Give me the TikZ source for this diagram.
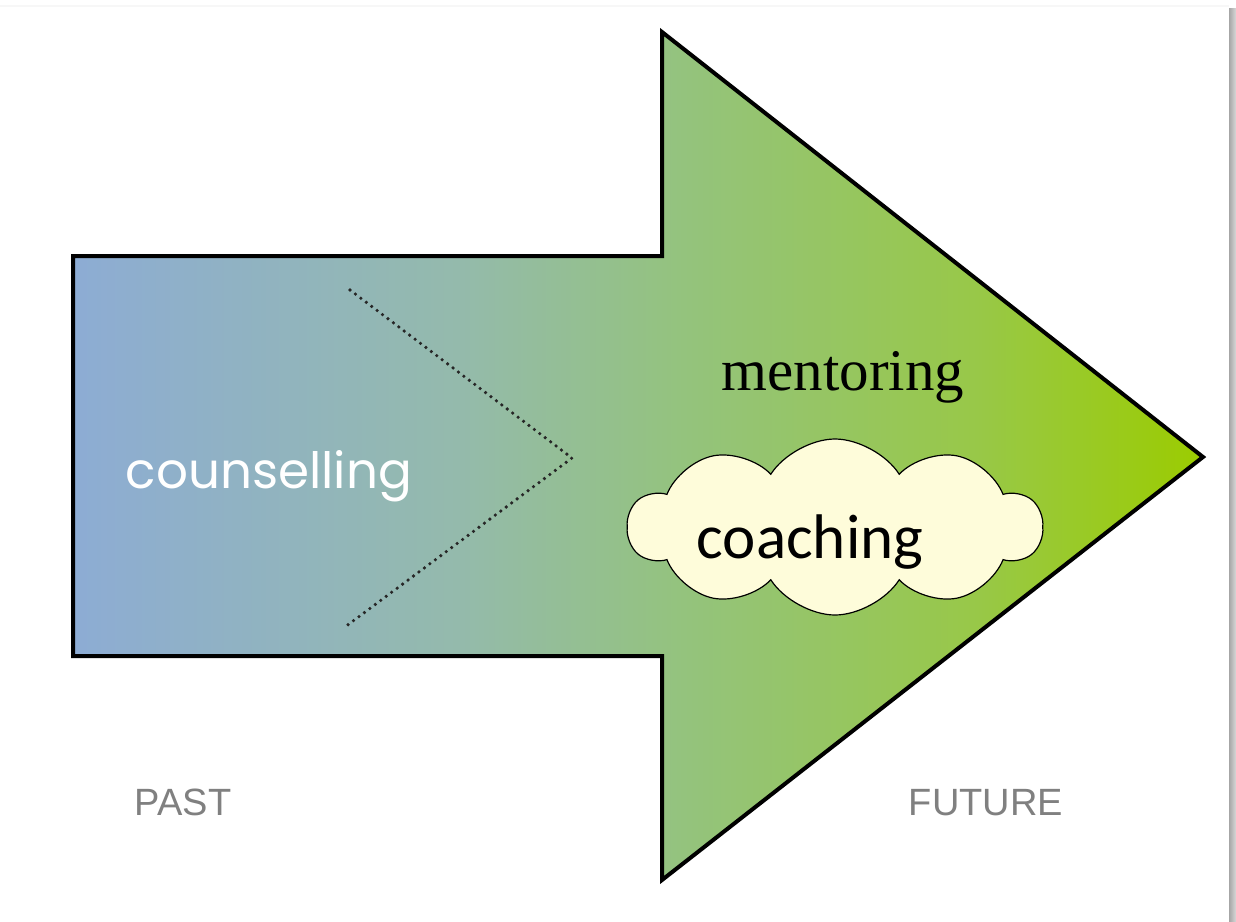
\documentclass[tikz,border=0pt]{standalone}
\usepackage{fontspec}
\setmainfont{Liberation Serif}
\newfontfamily\calfont{Carlito}
\newfontfamily\roundfont{Poppins}
\newfontfamily\arialfont{Liberation Sans}
\usetikzlibrary{shapes.symbols}
\definecolor{cA}{RGB}{141,172,212}
\definecolor{cB}{RGB}{148,186,172}
\definecolor{cC}{RGB}{148,195,125}
\definecolor{cD}{RGB}{152,200,72}
\definecolor{cE}{RGB}{155,204,0}
\definecolor{cloudfill}{RGB}{254,252,218}
\definecolor{labelgrey}{RGB}{128,128,128}
\pgfdeclarehorizontalshading{arrowshade}{100bp}{%
  color(0bp)=(cA); color(25bp)=(cA); color(42bp)=(cB); color(52bp)=(cC); color(65bp)=(cD); color(75bp)=(cE); color(100bp)=(cE)}
\tikzset{
  bigarrow/.style={draw=black, line width=2pt, line join=miter, shading=arrowshade, shading angle=0},
  dotline/.style={draw=black!85, line width=1.8pt, line cap=round, dash pattern=on 0pt off 3.4pt},
  cloudbox/.style={cloud, cloud puffs=10, cloud puff arc=115, aspect=2.4, draw=black, line width=0.6pt,
    fill=cloudfill, minimum width=207pt, minimum height=88pt, inner sep=0pt},
  timelabel/.style={font=\arialfont\fontsize{19}{21}\selectfont, text=labelgrey, anchor=base, inner sep=0pt}
}
\begin{document}
\begin{tikzpicture}[x=0.5pt,y=-0.5pt]
\useasboundingbox (0,0) rectangle (1236,921);
\fill[white] (0,0) rectangle (1236,921);
% page shadow
\shade[left color=black!35, right color=black!15] (1229,8) rectangle (1236,921);
\fill[black!3] (0,5) rectangle (1229,7);
% arrow
\coordinate (a1) at (73,256);
\coordinate (a2) at (662,256);
\coordinate (a3) at (662,32);
\coordinate (a4) at (1203,457);
\coordinate (a5) at (662,880);
\coordinate (a6) at (662,656);
\coordinate (a7) at (73,656);
\path[bigarrow] (a1) -- (a2) -- (a3) -- (a4) -- (a5) -- (a6) -- (a7) -- cycle;
% dotted chevron
\coordinate (d1) at (350,290);
\coordinate (d2) at (572,458);
\coordinate (d3) at (345,627);
\draw[dotline] (d1) -- (d2) -- (d3);
% texts
\node[anchor=base, inner sep=0pt, text=white, font=\roundfont\fontsize{25}{28}\selectfont] (counselling) at (269,488) {counselling};
\node[anchor=base, inner sep=0pt, font=\fontsize{29.5}{32}\selectfont] (mentoring) at (843,390) {mentoring};
\node[cloudbox] (cloud) at (835,527) {};
\node[anchor=base, inner sep=0pt, font=\calfont\fontsize{31.5}{34}\selectfont] (coaching) at (810,558) {coaching};
\node[timelabel] (past) at (183,815) {PAST};
\node[timelabel] (future) at (986,815) {FUTURE};
\end{tikzpicture}
\end{document}
